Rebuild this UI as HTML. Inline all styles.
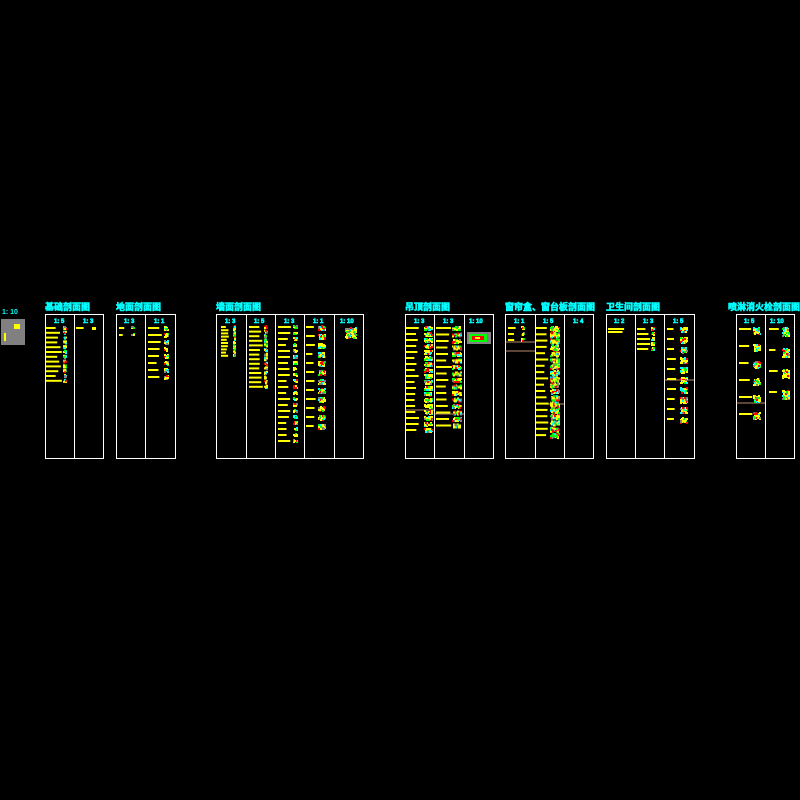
<!DOCTYPE html>
<html><head><meta charset="utf-8">
<style>
html,body{margin:0;padding:0;background:#000;width:800px;height:800px;overflow:hidden}
svg{display:block}
.t{font-family:"Liberation Sans","Noto Sans CJK SC",sans-serif;font-weight:bold;fill:#00ffff}
.h{stroke:#00ffff;stroke-width:0.6}
</style></head>
<body>
<svg id="s" width="800" height="800" viewBox="0 0 800 800" xmlns="http://www.w3.org/2000/svg">
<rect x="0" y="0" width="800" height="800" fill="#000"/>
<text class="t" x="2" y="314" font-size="7">1: 10</text>
<rect x="1" y="319" width="24" height="26" fill="#808080"/>
<rect x="14" y="324" width="6" height="5" fill="#ffff00"/>
<rect x="4" y="333" width="2" height="8" fill="#ffff00"/>

<text class="t h" x="45" y="310" font-size="9">基础剖面图</text>
<text class="t h" x="116" y="310" font-size="9">地面剖面图</text>
<text class="t h" x="216" y="310" font-size="9">墙面剖面图</text>
<text class="t h" x="405" y="310" font-size="9">吊顶剖面图</text>
<text class="t h" x="505" y="310" font-size="9">窗帘盒、窗台板剖面图</text>
<text class="t h" x="606" y="310" font-size="9">卫生间剖面图</text>
<text class="t h" x="728" y="310" font-size="9">喷淋消火栓剖面图</text>

<g fill="none" stroke="#fff" stroke-width="1">
<rect x="45.5" y="314.5" width="58" height="144"/><line x1="74.5" y1="314" x2="74.5" y2="459"/>
<rect x="116.5" y="314.5" width="59" height="144"/><line x1="145.5" y1="314" x2="145.5" y2="459"/>
<rect x="216.5" y="314.5" width="147" height="144"/>
<line x1="246.5" y1="314" x2="246.5" y2="459"/><line x1="275.5" y1="314" x2="275.5" y2="459"/><line x1="304.5" y1="314" x2="304.5" y2="459"/><line x1="334.5" y1="314" x2="334.5" y2="459"/>
<rect x="405.5" y="314.5" width="88" height="144"/><line x1="434.5" y1="314" x2="434.5" y2="459"/><line x1="464.5" y1="314" x2="464.5" y2="459"/>
<rect x="505.5" y="314.5" width="88" height="144"/><line x1="535.5" y1="314" x2="535.5" y2="459"/><line x1="564.5" y1="314" x2="564.5" y2="459"/>
<rect x="606.5" y="314.5" width="88" height="144"/><line x1="635.5" y1="314" x2="635.5" y2="459"/><line x1="664.5" y1="314" x2="664.5" y2="459"/>
<rect x="736.5" y="314.5" width="58" height="144"/><line x1="765.5" y1="314" x2="765.5" y2="459"/>
</g>
<g stroke="#f4b890" stroke-width="0.8">
<line x1="405" y1="410" x2="434" y2="410"/><line x1="434" y1="414" x2="464" y2="414"/>
<line x1="505" y1="342" x2="535" y2="342"/><line x1="505" y1="351" x2="535" y2="351"/><line x1="535" y1="404" x2="564" y2="404"/>
<line x1="664" y1="380" x2="694" y2="380"/><line x1="736" y1="403" x2="765" y2="403"/>
</g>

<g class="t h">
<text x="54" y="323" font-size="6">1: 5</text><text x="83" y="323" font-size="6">1: 3</text>
<text x="124" y="323" font-size="6">1: 3</text><text x="154" y="323" font-size="6">1: 1</text>
<text x="225" y="323" font-size="6">1: 3</text><text x="254" y="323" font-size="6">1: 5</text><text x="284" y="323" font-size="6">1: 3</text><text x="313" y="323" font-size="6">1: 1</text><text x="340" y="323" font-size="6">1: 10</text>
<text x="414" y="323" font-size="6">1: 3</text><text x="443" y="323" font-size="6">1: 3</text><text x="469" y="323" font-size="6">1: 10</text>
<text x="514" y="323" font-size="6">1: 1</text><text x="543" y="323" font-size="6">1: 5</text><text x="573" y="323" font-size="6">1: 4</text>
<text x="614" y="323" font-size="6">1: 2</text><text x="643" y="323" font-size="6">1: 3</text><text x="673" y="323" font-size="6">1: 5</text>
<text x="744" y="323" font-size="6">1: 5</text><text x="770" y="323" font-size="6">1: 10</text>
</g>
<g id="g"></g>
</svg>
<script>
var g=document.getElementById('g');var seed=7;
function r(){seed=(seed*16807)%2147483647;return seed/2147483647;}
function R(x,y,w,h,c){var e=document.createElementNS('http://www.w3.org/2000/svg','rect');e.setAttribute('x',x);e.setAttribute('y',y);e.setAttribute('width',w);e.setAttribute('height',h);e.setAttribute('fill',c);g.appendChild(e);}
var cols=['#ffff00','#ffff00','#ffff00','#ff0000','#00ff00','#808080','#00ffff'];
function icon(x,y,w,h){R(x+1,y+1,Math.max(w-2,1),Math.max(h-2,1),'#ffff00');for(var i=0;i<w*h/2;i++){var c=cols[Math.floor(r()*cols.length)];R(x+Math.floor(r()*(w-1)),y+Math.floor(r()*(h-1)),2,2,c);}}
function col(x,y0,n,st,bw,ix,iw,ih){for(var i=0;i<n;i++){var y=y0+i*st;R(x,y,bw*(0.6+0.4*r()),2,'#ffff00');if(ix)icon(ix,y-1,iw,ih);}}
col(46,327,12,4.8,16,63,4,4);
col(76,327,1,5,8,92,4,4);
col(119,327,2,7,6,131,4,3);
col(148,327,8,7,14,164,5,5);
col(221,326,10,3.2,8,233,3,3);
col(249,326,14,4.6,14,264,4,4);
col(278,326,20,6,13,293,5,4);
col(306,326,12,9,10,318,8,6);
icon(345,327,12,12);
col(406,327,18,6,13,424,9,5);
col(436,327,16,6.5,16,452,10,5);
R(467,332,24,12,'#808080');R(469,334,18,8,'#00ff00');R(472,336,12,4,'#ff0000');R(475,337,5,2,'#ffff00');
col(508,327,3,6,8,521,4,4);
col(536,327,18,6.3,13,550,10,6);
col(608,328,2,3,20,0,0,0);
col(637,328,5,5,14,651,4,4);
col(667,328,10,10,10,680,8,7);
col(739,328,6,17,14,753,8,8);
col(769,328,4,21,10,782,8,10);
</script>
</body></html>
